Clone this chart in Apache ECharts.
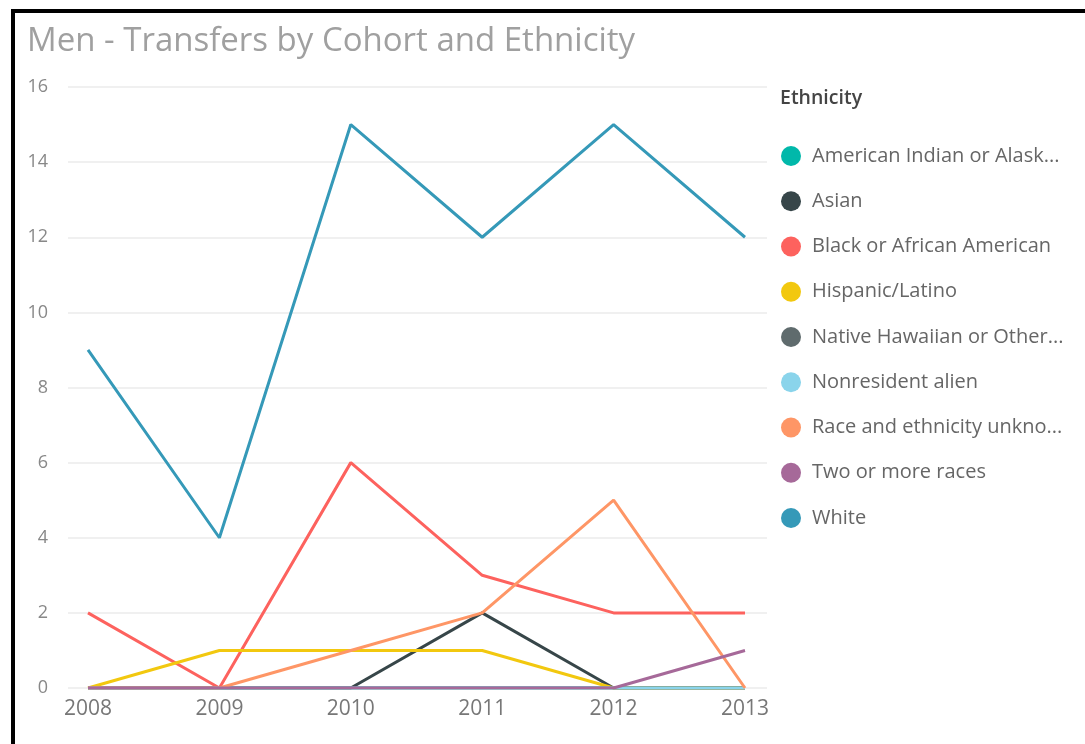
<!DOCTYPE html>
<html>
<head>
<meta charset="utf-8">
<script src="https://cdn.jsdelivr.net/npm/echarts@6/dist/echarts.min.js"></script>
<style>
  html, body { margin: 0; padding: 0; background: #fff; }
  #chart { width: 1085px; height: 744px; position: absolute; left: 0; top: 0; }
  #frame { position: absolute; left: 11px; top: 9px; width: 1074px; height: 735px;
           border-left: 4px solid #000; border-top: 4px solid #000; box-sizing: border-box; pointer-events: none; }
</style>
</head>
<body>
<div id="chart"></div>
<div id="frame"></div>
<script>
const years = ['2008', '2009', '2010', '2011', '2012', '2013'];
const yTicks = { min: 0, max: 16, interval: 2 };

const americanIndian = [0, 0, 0, 0, 0, 0];
const asian          = [0, 0, 0, 2, 0, 0];
const blackAfrican   = [2, 0, 6, 3, 2, 2];
const hispanic       = [0, 1, 1, 1, 0, 0];
const nativeHawaiian = [0, 0, 0, 0, 0, 0];
const nonresident    = [0, 0, 0, 0, 0, 0];
const raceUnknown    = [0, 0, 1, 2, 5, 0];
const twoOrMore      = [0, 0, 0, 0, 0, 1];
const white          = [9, 4, 15, 12, 15, 12];

const seriesNames = [
  'American Indian or Alaska Native',
  'Asian',
  'Black or African American',
  'Hispanic/Latino',
  'Native Hawaiian or Other Pacific Islander',
  'Nonresident alien',
  'Race and ethnicity unknown',
  'Two or more races',
  'White'
];
const seriesData = [americanIndian, asian, blackAfrican, hispanic, nativeHawaiian, nonresident, raceUnknown, twoOrMore, white];
const colors = ['#01B8AA', '#374649', '#FD625E', '#F2C80F', '#5F6B6D', '#8AD4EB', '#FE9666', '#A66999', '#3599B8'];

const FONT = '"Open Sans", "Segoe UI", sans-serif';

const chart = echarts.init(document.getElementById('chart'), null, { renderer: 'canvas' });
chart.setOption({
  animation: false,
  color: colors,
  title: [
    { text: 'Men - Transfers by Cohort and Ethnicity', left: 22, top: 20,
      textStyle: { fontFamily: FONT, fontSize: 33, fontWeight: 'normal', color: '#a0a0a0' } },
    { text: 'Ethnicity', left: 775, top: 83,
      textStyle: { fontFamily: FONT, fontSize: 19.5, fontWeight: 600, color: '#444' } }
  ],
  legend: {
    orient: 'vertical',
    left: 776, top: 141,
    icon: 'circle',
    itemWidth: 20, itemHeight: 20,
    itemGap: 25.25,
    data: seriesNames,
    formatter: name => (name.length > 25 ? name.slice(0, 24) + '...' : name),
    textStyle: { fontFamily: FONT, fontSize: 20, lineHeight: 20, color: '#666', padding: [0, 0, 0, 6] }
  },
  grid: [
    { left: 68, right: 318, top: 87, bottom: 56 },
    { left: 88, right: 340, top: 87, bottom: 56 }
  ],
  xAxis: [
    { gridIndex: 0, type: 'category', data: years, show: false },
    { gridIndex: 1, type: 'category', data: years, boundaryGap: false,
      axisLine: { show: false }, axisTick: { show: false },
      axisLabel: { fontFamily: FONT, fontSize: 21, color: '#777', margin: 11 } }
  ],
  yAxis: [
    { gridIndex: 0, type: 'value', min: yTicks.min, max: yTicks.max, interval: yTicks.interval,
      axisLine: { show: false }, axisTick: { show: false },
      axisLabel: { fontFamily: FONT, fontSize: 18, color: '#888', margin: 20 },
      splitLine: { lineStyle: { color: '#ebebeb', width: 1.5 } } },
    { gridIndex: 1, type: 'value', min: yTicks.min, max: yTicks.max, interval: yTicks.interval,
      show: false, splitLine: { show: false } }
  ],
  series: seriesNames.map((name, i) => ({
    name: name,
    type: 'line',
    xAxisIndex: 1, yAxisIndex: 1,
    data: seriesData[i],
    symbol: 'none',
    lineStyle: { width: 3, color: colors[i] },
    itemStyle: { color: colors[i] }
  }))
});
</script>
</body>
</html>
